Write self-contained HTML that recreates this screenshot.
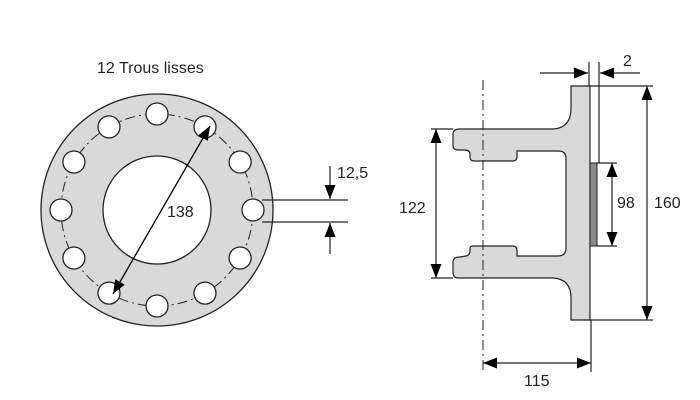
<!DOCTYPE html>
<html><head><meta charset="utf-8"><style>html,body{margin:0;padding:0;background:#fff}svg{display:block}</style></head>
<body>
<svg width="700" height="400" viewBox="0 0 700 400" xmlns="http://www.w3.org/2000/svg" font-family="Liberation Sans, sans-serif">
<defs>
<marker id="a" viewBox="0 0 14 11" refX="14" refY="5.5" markerWidth="14" markerHeight="11" markerUnits="userSpaceOnUse" orient="auto-start-reverse"><path d="M0,0 L14,5.5 L0,11 z" fill="#000"/></marker>
</defs>
<text x="97" y="73" font-size="16" fill="#222">12 Trous lisses</text>
<circle cx="157" cy="210" r="116" fill="#d9d9da" stroke="#222" stroke-width="1.3"/>
<circle cx="157" cy="210" r="54" fill="#fff" stroke="#222" stroke-width="1.3"/>
<circle cx="157" cy="210" r="96" fill="none" stroke="#222" stroke-width="1" stroke-dasharray="10,4,2,4"/>
<g fill="#fff" stroke="#222" stroke-width="1.3">
<circle cx="253" cy="210" r="11"/><circle cx="240.1" cy="258" r="11"/><circle cx="205" cy="293.1" r="11"/>
<circle cx="157" cy="306" r="11"/><circle cx="109" cy="293.1" r="11"/><circle cx="73.9" cy="258" r="11"/>
<circle cx="61" cy="210" r="11"/><circle cx="73.9" cy="162" r="11"/><circle cx="109" cy="126.9" r="11"/>
<circle cx="157" cy="114" r="11"/><circle cx="205" cy="126.9" r="11"/><circle cx="240.1" cy="162" r="11"/>
</g>
<line x1="113" y1="294" x2="210" y2="126" stroke="#000" stroke-width="1.3" marker-start="url(#a)" marker-end="url(#a)"/>
<text x="167" y="217" font-size="16" fill="#222">138</text>
<g stroke="#222" stroke-width="1.2">
<line x1="262" y1="200" x2="348" y2="200"/><line x1="262" y1="222" x2="348" y2="222"/>
<line x1="330" y1="166" x2="330" y2="199" marker-end="url(#a)"/>
<line x1="330" y1="254" x2="330" y2="223" marker-end="url(#a)"/>
</g>
<text x="337" y="178" font-size="16" fill="#222">12,5</text>
<path d="M571,86 L590,86 L590,320 L571,320 L571,298 Q571,279 553,278 L458,278 Q453,278 453,272 L453,262 Q453,257 460,257 L466,256 Q470,255 470,251 L470,248 Q470,246 474,246 L513,246 Q517,246 517,251 L517,256 L558,256 Q566,256 566,248 L566,158 Q566,151 558,151 L517,151 L517,156 Q517,161 513,161 L474,161 Q470,161 470,157 L470,154 Q470,150 464,150 L458,150 Q453,150 453,145 L453,134 Q453,129 460,129 L553,129 Q571,128 571,108 Z" fill="#d9d9da" stroke="#222" stroke-width="1.2"/>
<rect x="590" y="163" width="7" height="83" fill="#8c8c8c" stroke="#222" stroke-width="1"/>
<line x1="483" y1="80" x2="483" y2="372" stroke="#222" stroke-width="1" stroke-dasharray="10,4,2,4"/>
<g stroke="#222" stroke-width="1.2" fill="none">
<line x1="431" y1="129" x2="453" y2="129"/><line x1="431" y1="278" x2="453" y2="278"/>
<line x1="436" y1="129" x2="436" y2="278" marker-start="url(#a)" marker-end="url(#a)"/>
<line x1="597" y1="163" x2="617" y2="163"/><line x1="597" y1="246" x2="617" y2="246"/>
<line x1="612" y1="163" x2="612" y2="246" marker-start="url(#a)" marker-end="url(#a)"/>
<line x1="590" y1="86" x2="653" y2="86"/><line x1="590" y1="320" x2="653" y2="320"/>
<line x1="647" y1="86" x2="647" y2="320" marker-start="url(#a)" marker-end="url(#a)"/>
<line x1="589" y1="62" x2="589" y2="86"/><line x1="599" y1="62" x2="599" y2="163"/>
<line x1="540" y1="73" x2="588" y2="73" marker-end="url(#a)"/>
<line x1="640" y1="73" x2="600" y2="73" marker-end="url(#a)"/>
<line x1="591" y1="320" x2="591" y2="372"/>
<line x1="483" y1="363" x2="591" y2="363" marker-start="url(#a)" marker-end="url(#a)"/>
</g>
<text x="399" y="213" font-size="16" fill="#222">122</text>
<text x="617" y="208" font-size="16" fill="#222">98</text>
<text x="654" y="208" font-size="16" fill="#222">160</text>
<text x="623" y="66" font-size="16" fill="#222">2</text>
<text x="524" y="386" font-size="16" fill="#222">115</text>
</svg>
</body></html>
